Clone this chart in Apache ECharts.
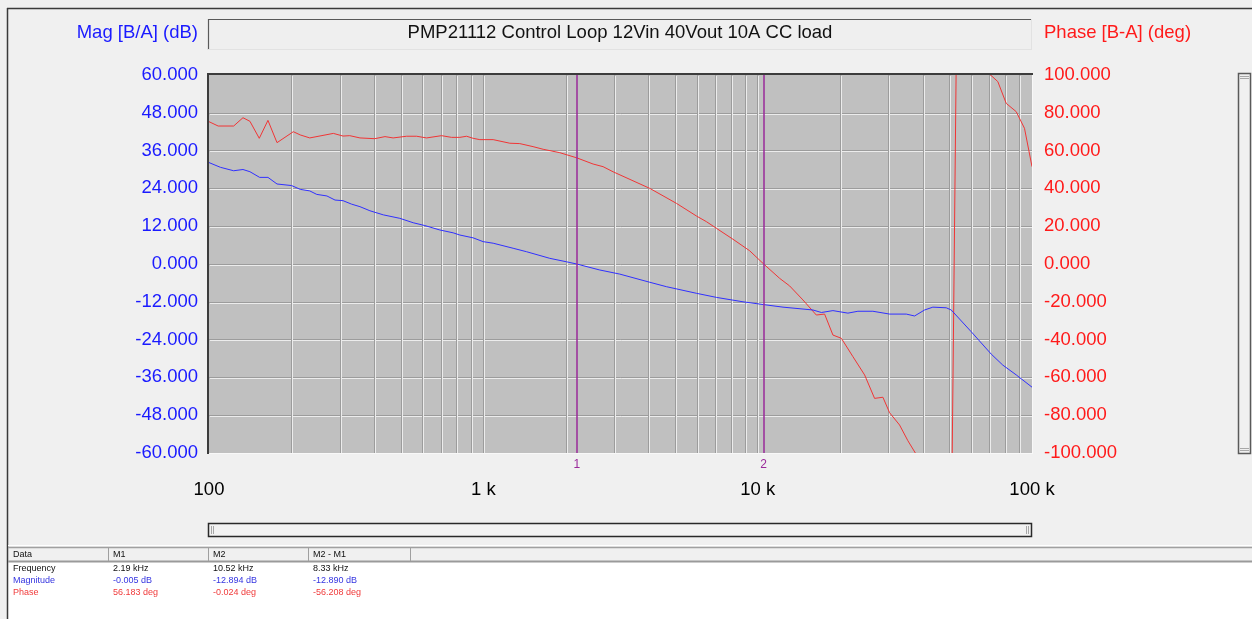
<!DOCTYPE html>
<html>
<head>
<meta charset="utf-8">
<script src="https://cdn.jsdelivr.net/npm/echarts@6/dist/echarts.min.js"></script>
<style>
  html, body { margin: 0; padding: 0; background: #f0f0f0; }
  #chart { width: 1252px; height: 619px; }
</style>
</head>
<body>
<div id="chart"></div>
<script>
// Loop gain measurement: frequency (Hz) and magnitude (dB)
const magFreq = [100,110,123,133,141,153,164,177,200,215,
  233,247,269,288,308,331,355,386,432,496,
  555,612,694,776,821,918,998,1086,1284,1437,
  1747,2010,2190,2657,3142,4044,4649,5981,7071,8844,
  10520,12370,15910,17070,18810,21330,23190,26300,30270,34810,
  37320,40590,43510,48690,50770,60040,71010,78280,87590,100000];
const magDb = [32.2,30.7,29.6,30.0,29.3,27.5,27.5,25.4,24.9,23.7,
  23.2,22.1,21.6,20.3,20.1,19.0,18.2,16.9,15.6,14.5,
  13.1,12.2,10.8,9.9,9.2,8.3,7.1,6.6,5.0,3.9,
  1.8,0.7,-0.005,-1.9,-3.2,-5.8,-7.2,-9.3,-10.6,-12.0,
  -12.894,-13.7,-14.6,-15.4,-14.8,-15.6,-15.0,-15.0,-15.9,-15.9,
  -16.5,-14.6,-13.7,-13.9,-14.6,-21.5,-28.6,-32.1,-35.2,-39.1];

// Loop phase: frequency (Hz) and phase (deg), wrapped at +/-180
const phaseFreq = [100,108,123,133,141,152.5,164,177,203,215,
  233,284,308,326,355,402,438,469,525,571,
  621,704,766,821,869,918,971,1086,1249,1358,
  1518,1652,1900,2190,2512,2732,2971,4044,5056,5981,
  6504,7071,8128,9352,10520,12030,13080,14620,16360,17540,
  18810,20180,22240,24540,26680,28610,30270,32910,35280,37640,
  42330,48000,50690,53530,59190,64380,70010,75060,80540,87590,
  93890,100000];
const phaseDeg = [75.3,73.0,73.0,77.4,75.5,66.5,76.0,64.2,70.0,68.3,
  66.7,69.1,67.7,67.9,66.7,66.3,67.4,66.7,67.6,67.6,
  66.7,67.9,67.0,67.0,67.6,66.5,65.8,65.8,63.9,63.7,
  62.1,60.7,58.9,56.183,52.9,51.5,48.8,40.0,32.1,25.4,
  22.4,18.9,13.1,7.0,-0.024,-7.6,-11.6,-19.0,-27.0,-26.5,
  -37.6,-39.3,-49.0,-58.7,-71.1,-70.5,-78.7,-85.2,-93.5,-100.2,
  -118,-140,-160,175,135,112,100.5,96.5,85.0,80.6,
  71.8,51.5];

// Cursor markers
const markerNames = ['1', '2'];
const markerFreq = [2190, 10520];

// Readout table
const tableHeader = ['Data', 'M1', 'M2', 'M2 - M1'];
const rowLabels = ['Frequency', 'Magnitude', 'Phase'];
const freqRow = ['2.19 kHz', '10.52 kHz', '8.33 kHz'];
const magRow = ['-0.005 dB', '-12.894 dB', '-12.890 dB'];
const phaseRow = ['56.183 deg', '-0.024 deg', '-56.208 deg'];

// Axis ranges
const magRange = [-60, 60, 12];
const phaseRange = [-100, 100, 20];
const freqRange = [100, 100000];

const chartTitle = 'PMP21112 Control Loop 12Vin 40Vout 10A CC load';
const magName = 'Mag [B/A] (dB)';
const phaseName = 'Phase [B-A] (deg)';

const BLUE = '#1a1aff';
const RED = '#ff1a1a';
const LINE_BLUE = '#3030ff';
const LINE_RED = '#f03535';
const PURPLE = '#9a2a9a';
const FONT = '"Liberation Sans", Arial, sans-serif';
const SMALL = '9px ' + FONT;

// vertical grid lines at 2..9 and decades inside the range
const gridFreqs = [];
for (let dec = freqRange[0]; dec < freqRange[1]; dec *= 10) {
  for (let m = 1; m <= 9; m++) {
    const v = m * dec;
    if (v > freqRange[0] && v < freqRange[1]) gridFreqs.push(v);
  }
}

const P = { left: 209, top: 75, width: 823, height: 378 };

const chart = echarts.init(document.getElementById('chart'));

function line(x1, y1, x2, y2, color, w) {
  return { type: 'line', silent: true, z: 100,
    shape: { x1, y1, x2, y2 }, style: { stroke: color, lineWidth: w || 1 } };
}
function text(x, y, t, color, font, align) {
  return { type: 'text', silent: true, z: 100, x, y,
    style: { text: t, fill: color, font, align: align || 'left', verticalAlign: 'middle' } };
}

const graphics = [];
// window frame
graphics.push(line(7, 8.5, 1252, 8.5, '#3a3a3a', 1.5));
graphics.push(line(7.5, 8, 7.5, 619, '#3a3a3a', 1.5));
// title box
graphics.push({ type: 'rect', silent: true, z: 99, shape: { x: 208.5, y: 19.5, width: 823, height: 30 }, style: { fill: '#efefef' } });
graphics.push(line(208, 19.5, 1032, 19.5, '#5a5a5a', 1.2));
graphics.push(line(208.5, 19, 208.5, 50, '#5a5a5a', 1.2));
graphics.push(line(208, 49.5, 1032, 49.5, '#e2e2e2', 1));
graphics.push(line(1031.5, 19, 1031.5, 50, '#e2e2e2', 1));
graphics.push(text(620, 32.5, chartTitle, '#111', '18.5px ' + FONT, 'center'));
graphics.push(text(198, 32.5, magName, BLUE, '18.5px ' + FONT, 'right'));
graphics.push(text(1044, 32.5, phaseName, RED, '18.5px ' + FONT, 'left'));
// plot frame (sunken)
graphics.push(line(207, 74, 1033, 74, '#3c3c3c', 2));
graphics.push(line(208, 74, 208, 454, '#3c3c3c', 2));
graphics.push(line(209, 453.5, 1033, 453.5, '#f8f8f8', 1));
graphics.push(line(1032.5, 75, 1032.5, 454, '#f8f8f8', 1));
// vertical scrollbar
graphics.push({ type: 'rect', silent: true, z: 99, shape: { x: 1238.5, y: 73.5, width: 12, height: 380 }, style: { fill: '#f0f0f0', stroke: '#5a5a5a', lineWidth: 1.5 } });
graphics.push(line(1240, 76.5, 1249, 76.5, '#a8a8a8', 1));
graphics.push(line(1240, 78.5, 1249, 78.5, '#a8a8a8', 1));
graphics.push(line(1240, 448.5, 1249, 448.5, '#a8a8a8', 1));
graphics.push(line(1240, 450.5, 1249, 450.5, '#a8a8a8', 1));
// horizontal scrollbar
graphics.push({ type: 'rect', silent: true, z: 99, shape: { x: 208.5, y: 523.5, width: 823, height: 13 }, style: { fill: '#f3f3f3', stroke: '#2a2a2a', lineWidth: 1.5 } });
graphics.push(line(211.5, 526, 211.5, 534, '#a8a8a8', 1));
graphics.push(line(213.5, 526, 213.5, 534, '#a8a8a8', 1));
graphics.push(line(1026.5, 526, 1026.5, 534, '#a8a8a8', 1));
graphics.push(line(1028.5, 526, 1028.5, 534, '#a8a8a8', 1));
// readout table
graphics.push({ type: 'rect', silent: true, z: 98, shape: { x: 8, y: 562, width: 1244, height: 57 }, style: { fill: '#ffffff' } });
graphics.push(line(8, 545.5, 1252, 545.5, '#ffffff', 1));
graphics.push(line(8, 547.5, 1252, 547.5, '#a0a0a0', 1.5));
graphics.push(line(8, 561.5, 1252, 561.5, '#9a9a9a', 2));
[108.5, 208.5, 308.5, 410.5].forEach(x => graphics.push(line(x, 547, x, 561, '#a0a0a0', 1)));
const colX = [13, 113, 213, 313];
tableHeader.forEach((t, i) => graphics.push(text(colX[i], 555, t, '#111', SMALL)));
const rowY = [568.5, 580.5, 592.5];
const rowColors = ['#111', '#3434e0', '#f03a3a'];
const rows = [freqRow, magRow, phaseRow];
rowLabels.forEach((lab, r) => {
  graphics.push(text(colX[0], rowY[r], lab, rowColors[r], SMALL));
  rows[r].forEach((v, c) => graphics.push(text(colX[c + 1], rowY[r], v, rowColors[r], SMALL)));
});

function gridLines(color) {
  return {
    silent: true, symbol: ['none', 'none'], z: 1, animation: false,
    label: { show: false },
    emphasis: { disabled: true },
    lineStyle: { color, width: 1, type: 'solid' },
    data: gridFreqs.map(v => ({ xAxis: v }))
  };
}

const xAxisBase = {
  type: 'log', logBase: 10, min: freqRange[0], max: freqRange[1],
  axisLine: { show: false }, axisTick: { show: false },
  splitLine: { show: false }, minorTick: { show: false }
};

chart.setOption({
  animation: false,
  backgroundColor: '#f0f0f0',
  grid: [
    { left: P.left, top: P.top, width: P.width, height: P.height, show: true,
      backgroundColor: '#c0c0c0', borderWidth: 0 },
    { left: P.left + 1, top: P.top + 1, width: P.width, height: P.height, show: false }
  ],
  xAxis: [
    Object.assign({}, xAxisBase, { gridIndex: 0,
      axisLabel: { color: '#000', fontSize: 18.5, fontFamily: FONT, margin: 27.5,
        showMinLabel: true, showMaxLabel: true,
        formatter: v => v >= 1000 ? (v / 1000) + ' k' : String(v) } }),
    Object.assign({}, xAxisBase, { gridIndex: 1, axisLabel: { show: false } })
  ],
  yAxis: [
    { type: 'value', gridIndex: 0, position: 'left',
      min: magRange[0], max: magRange[1], interval: magRange[2],
      axisLine: { show: false }, axisTick: { show: false },
      axisLabel: { color: BLUE, fontSize: 18.5, fontFamily: FONT, margin: 11,
        formatter: v => v.toFixed(3) },
      splitLine: { show: true, showMinLine: false, showMaxLine: false,
        lineStyle: { color: '#9c9c9c', width: 1 } } },
    { type: 'value', gridIndex: 0, position: 'right',
      min: phaseRange[0], max: phaseRange[1], interval: phaseRange[2],
      axisLine: { show: false }, axisTick: { show: false },
      axisLabel: { color: RED, fontSize: 18.5, fontFamily: FONT, margin: 12,
        formatter: v => v.toFixed(3) },
      splitLine: { show: false } },
    { type: 'value', gridIndex: 1,
      min: magRange[0], max: magRange[1], interval: magRange[2],
      axisLine: { show: false }, axisTick: { show: false }, axisLabel: { show: false },
      splitLine: { show: true, showMinLine: false, showMaxLine: false,
        lineStyle: { color: '#ececec', width: 1 } } }
  ],
  series: [
    { name: 'grid-dark', type: 'line', xAxisIndex: 0, yAxisIndex: 0, data: [],
      silent: true, z: 1, markLine: gridLines('#9c9c9c') },
    { name: 'grid-light', type: 'line', xAxisIndex: 1, yAxisIndex: 2, data: [],
      silent: true, z: 1, markLine: gridLines('#ececec') },
    { name: 'Phase', type: 'line', xAxisIndex: 0, yAxisIndex: 1,
      data: phaseFreq.map((f, i) => [f, phaseDeg[i]]),
      showSymbol: false, clip: true, z: 10,
      lineStyle: { color: LINE_RED, width: 1 }, itemStyle: { color: LINE_RED } },
    { name: 'Magnitude', type: 'line', xAxisIndex: 0, yAxisIndex: 0,
      data: magFreq.map((f, i) => [f, magDb[i]]),
      showSymbol: false, clip: true, z: 10,
      lineStyle: { color: LINE_BLUE, width: 1 }, itemStyle: { color: LINE_BLUE },
      markLine: {
        silent: true, symbol: ['none', 'none'], z: 12, animation: false,
        lineStyle: { color: PURPLE, width: 1.5, type: 'solid' },
        emphasis: { disabled: true },
        label: { show: true, position: 'start', distance: 6, formatter: '{b}',
          color: PURPLE, fontSize: 12, fontFamily: FONT },
        data: markerFreq.map((f, i) => ({ name: markerNames[i], xAxis: f }))
      } }
  ],
  graphic: { elements: graphics }
});
</script>
</body>
</html>
